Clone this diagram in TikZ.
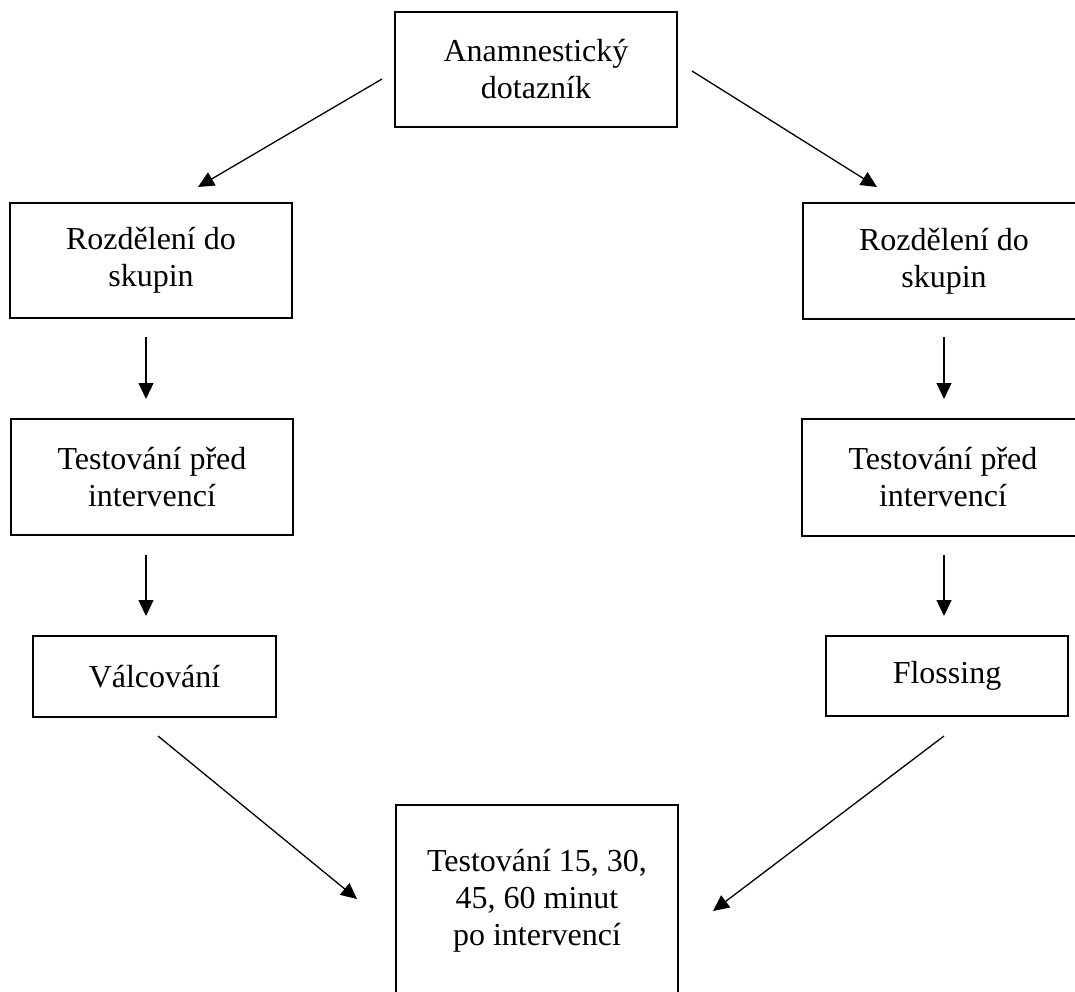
\documentclass[tikz,border=0pt]{standalone}
\usepackage{fontspec}
\setmainfont{Liberation Serif}
\usetikzlibrary{arrows.meta}
\begin{document}
\begin{tikzpicture}[x=1pt,y=-1pt,
  box/.style={draw,line width=2.6pt,inner sep=0pt,align=center,font=\fontsize{32}{37}\selectfont},
  arr/.style={line width=1.3pt,-{Triangle[length=16pt,width=15pt]}}]
\useasboundingbox (0,0) rectangle (1075,991);
\clip (0,0) rectangle (1075,991);
% boxes
\node[box,minimum width=282pt,minimum height=115pt] (top) at (536,69.5) {Anamnestický\\dotazník};
\node[box,minimum width=282pt,minimum height=115pt] (l1) at (151,260.5) {Rozdělení do\\skupin};
\node[box,minimum width=282pt,minimum height=116pt] (r1) at (944,261) {Rozdělení do\\skupin};
\node[box,minimum width=282pt,minimum height=116pt] (l2) at (152,477) {Testování před\\intervencí};
\node[box,minimum width=282pt,minimum height=117pt] (r2) at (943,477.5) {Testování před\\intervencí};
\node[box,minimum width=243pt,minimum height=81pt] (l3) at (154.5,676.5) {Válcování};
\node[box,minimum width=242pt,minimum height=80pt] (r3) at (947,676) {Flossing};
\node[box,minimum width=282pt,minimum height=192pt] (bot) at (537,901) {Testování 15, 30,\\45, 60 minut\\po intervencí};
% arrow end points
\coordinate (tl0) at (382,79);   \coordinate (tl1) at (198,187);
\coordinate (tr0) at (692,71);   \coordinate (tr1) at (877,187);
\coordinate (la0) at (146,337);  \coordinate (la1) at (146,399);
\coordinate (lb0) at (146,555);  \coordinate (lb1) at (146,616);
\coordinate (ra0) at (944,337);  \coordinate (ra1) at (944,399);
\coordinate (rb0) at (944,555);  \coordinate (rb1) at (944,616);
\coordinate (bl0) at (158,736);  \coordinate (bl1) at (357,899);
\coordinate (br0) at (944,736);  \coordinate (br1) at (713,911);
% connectors
\draw[arr] (tl0) -- (tl1);
\draw[arr] (tr0) -- (tr1);
\draw[arr] (la0) -- (la1);
\draw[arr] (lb0) -- (lb1);
\draw[arr] (ra0) -- (ra1);
\draw[arr] (rb0) -- (rb1);
\draw[arr] (bl0) -- (bl1);
\draw[arr] (br0) -- (br1);
\end{tikzpicture}
\end{document}
